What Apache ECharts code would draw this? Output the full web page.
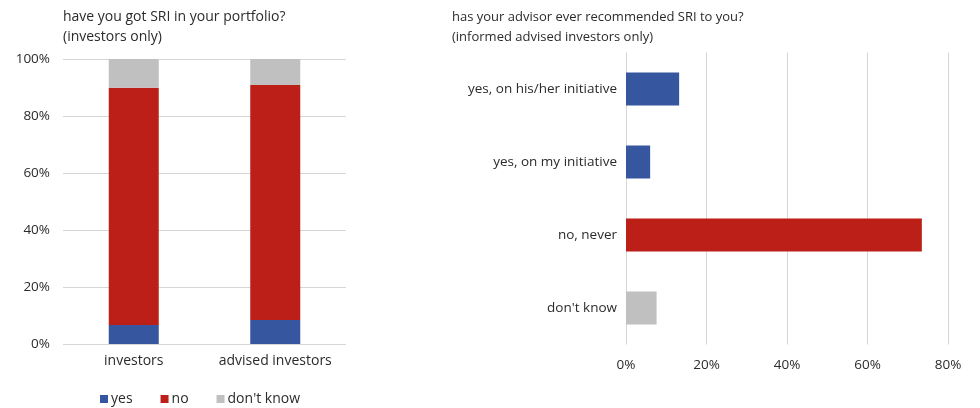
<!DOCTYPE html>
<html>
<head>
<meta charset="utf-8">
<script src="https://cdn.jsdelivr.net/npm/echarts@6/dist/echarts.min.js"></script>
<style>
  html, body { margin: 0; padding: 0; background: #fff; }
  #chart { width: 980px; height: 408px; }
</style>
</head>
<body>
<div id="chart"></div>
<script>
// Left panel: share of investors holding SRI (stacked to 100%)
var portfolioGroups = ['investors', 'advised investors'];
var answerNames = ['yes', 'no', "don't know"];
var yesShare = [6.7, 8.4];
var noShare = [83.2, 82.5];
var dontKnowShare = [10.1, 9.1];
var percentTicks = [0, 20, 40, 60, 80, 100];

// Right panel: advisor recommendation answers
var advisorAnswers = ['yes, on his/her initiative', 'yes, on my initiative', 'no, never', "don't know"];
var advisorShare = [13.2, 6.0, 73.5, 7.6];
var advisorTicks = [0, 20, 40, 60, 80];

var BLUE = '#3656a0';
var RED = '#bc1e18';
var GREY = '#c0c0c0';
var GRID = '#d6d6d6';
var TEXT = '#2b2b2b';
var FONT = '"Open Sans", sans-serif';

var advisorColors = [BLUE, BLUE, RED, GREY];

var chart = echarts.init(document.getElementById('chart'));

chart.setOption({
  animation: false,
  textStyle: { fontFamily: FONT, color: TEXT },
  title: [
    {
      text: 'have you got SRI in your portfolio?\n(investors only)',
      left: 58, top: 2,
      textStyle: { fontFamily: FONT, fontSize: 14, fontWeight: 'normal', color: TEXT, lineHeight: 20 }
    },
    {
      text: 'has your advisor ever recommended SRI to you?\n(informed advised investors only)',
      left: 447, top: 2,
      textStyle: { fontFamily: FONT, fontSize: 13, fontWeight: 'normal', color: TEXT, lineHeight: 20 }
    }
  ],
  legend: {
    data: answerNames,
    left: 95, top: 387,
    itemWidth: 8, itemHeight: 8, itemGap: 28,
    icon: 'rect',
    textStyle: { fontFamily: FONT, fontSize: 14, color: TEXT, padding: [0, 0, 0, -2] }
  },
  grid: [
    { left: 63, right: 634, top: 59, bottom: 64 },
    { left: 626, right: 32, top: 52.5, bottom: 63.5 }
  ],
  xAxis: [
    {
      gridIndex: 0, type: 'category', data: portfolioGroups,
      axisLine: { show: false }, axisTick: { show: false },
      axisLabel: { interval: 0, margin: 10, fontSize: 14, color: TEXT, fontFamily: FONT }
    },
    {
      gridIndex: 1, type: 'value', min: advisorTicks[0], max: advisorTicks[advisorTicks.length - 1], interval: 20,
      axisLine: { show: false }, axisTick: { show: false },
      splitLine: { show: true, lineStyle: { color: GRID, width: 1 } },
      axisLabel: { margin: 14, fontSize: 13.5, color: TEXT, fontFamily: FONT, formatter: '{value}%' }
    }
  ],
  yAxis: [
    {
      gridIndex: 0, type: 'value', min: percentTicks[0], max: percentTicks[percentTicks.length - 1], interval: 20,
      axisLine: { show: false }, axisTick: { show: false },
      splitLine: { show: true, lineStyle: { color: GRID, width: 1 } },
      axisLabel: { margin: 13, fontSize: 13.5, color: TEXT, fontFamily: FONT, formatter: '{value}%' }
    },
    {
      gridIndex: 1, type: 'category', data: advisorAnswers, inverse: true,
      axisLine: { show: false }, axisTick: { show: false },
      axisLabel: { interval: 0, margin: 9, fontSize: 13.5, color: TEXT, fontFamily: FONT }
    }
  ],
  series: [
    { name: 'yes', type: 'bar', stack: 'portfolio', xAxisIndex: 0, yAxisIndex: 0,
      barWidth: 50, data: yesShare, itemStyle: { color: BLUE } },
    { name: 'no', type: 'bar', stack: 'portfolio', xAxisIndex: 0, yAxisIndex: 0,
      barWidth: 50, data: noShare, itemStyle: { color: RED } },
    { name: "don't know", type: 'bar', stack: 'portfolio', xAxisIndex: 0, yAxisIndex: 0,
      barWidth: 50, data: dontKnowShare, itemStyle: { color: GREY } },
    { name: 'advisor', type: 'bar', xAxisIndex: 1, yAxisIndex: 1,
      barWidth: 33,
      data: advisorShare.map(function (v, i) {
        return { value: v, itemStyle: { color: advisorColors[i] } };
      }) }
  ]
});
</script>
</body>
</html>
